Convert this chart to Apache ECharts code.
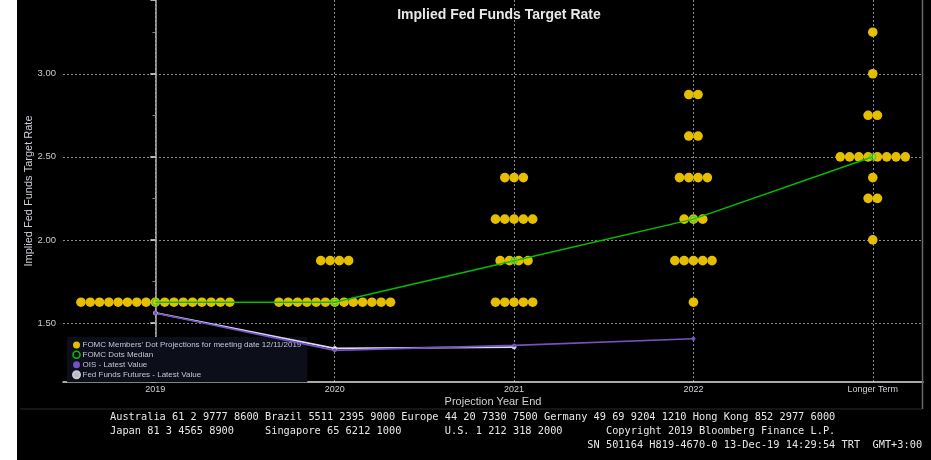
<!DOCTYPE html>
<html><head><meta charset="utf-8">
<script src="https://cdn.jsdelivr.net/npm/echarts@6/dist/echarts.min.js"></script>
<style>html,body{margin:0;padding:0;background:#000;}#c{width:931px;height:460px;}</style>
</head><body><div id="c"></div>
<script>
// ---- data ----
const categories = ['2019', '2020', '2021', '2022', 'Longer Term'];
const dotLevels  = [1.625, 1.875, 2.00, 2.125, 2.25, 2.375, 2.50, 2.625, 2.75, 2.875, 3.00, 3.25];
const dots2019   = [17, 0, 0, 0, 0, 0, 0, 0, 0, 0, 0, 0];
const dots2020   = [13, 4, 0, 0, 0, 0, 0, 0, 0, 0, 0, 0];
const dots2021   = [5, 4, 0, 5, 0, 3, 0, 0, 0, 0, 0, 0];
const dots2022   = [1, 5, 0, 3, 0, 4, 0, 2, 0, 2, 0, 0];
const dotsLonger = [0, 0, 1, 0, 2, 1, 8, 0, 2, 0, 1, 1];
const medianValues  = [1.625, 1.625, 1.875, 2.125, 2.50];
const oisValues     = [1.56, 1.335, 1.365, 1.405];
const futuresValues = [1.56, 1.347, 1.355];
const seriesNames = [
  "FOMC Members' Dot Projections for meeting date 12/11/2019",
  'FOMC Dots Median',
  'OIS - Latest Value',
  'Fed Funds Futures - Latest Value'
];
const footerLines = [
  'Australia 61 2 9777 8600 Brazil 5511 2395 9000 Europe 44 20 7330 7500 Germany 49 69 9204 1210 Hong Kong 852 2977 6000',
  'Japan 81 3 4565 8900     Singapore 65 6212 1000       U.S. 1 212 318 2000       Copyright 2019 Bloomberg Finance L.P.',
  '                                                                             SN 501164 H819-4670-0 13-Dec-19 14:29:54 TRT  GMT+3:00'
];

// ---- build ----
const DOT_STEP = 9.3;
const dotSets = [dots2019, dots2020, dots2021, dots2022, dotsLonger];
const dotData = [];
dotSets.forEach((counts, ci) => {
  counts.forEach((n, li) => {
    for (let k = 0; k < n; k++) {
      dotData.push({ value: [ci, dotLevels[li]], symbolOffset: [(k - (n - 1) / 2) * DOT_STEP, 0] });
    }
  });
});
const toXY = arr => arr.map((v, i) => [i, v]);

const DOT_COLOR = '#e6be00';
const GREEN = '#00c000';
const PURPLE = '#7452c4';
const WHITE_L = '#dcdcf0';

const chart = echarts.init(document.getElementById('c'), null, { renderer: 'canvas' });
const option = {
  backgroundColor: '#000',
  animation: false,
  title: {
    text: 'Implied Fed Funds Target Rate', left: 494, top: 3, textAlign: 'center',
    textStyle: { color: '#e8e8e8', fontSize: 14, fontWeight: 'bold', fontFamily: 'Liberation Sans' }
  },
  grid: { left: 63, right: 8, top: 0, bottom: 78 },
  legend: {
    orient: 'vertical', left: 67, top: 337, selectedMode: false, z: 1,
    padding: [4, 6, 3, 5], itemGap: 1.6, itemWidth: 8, itemHeight: 7,
    backgroundColor: '#0c0e1a',
    textStyle: { color: '#c4c6d4', fontSize: 8, fontFamily: 'Liberation Sans', padding: [0, 0, 0, -3] },
    data: [
      { name: seriesNames[0], icon: 'circle', itemStyle: { color: DOT_COLOR } },
      { name: seriesNames[1], icon: 'circle', itemStyle: { color: 'rgba(0,0,0,0)', borderColor: GREEN, borderWidth: 1.5 } },
      { name: seriesNames[2], icon: 'circle', itemStyle: { color: PURPLE } },
      { name: seriesNames[3], icon: 'circle', itemStyle: { color: '#bbbbbb' } }
    ]
  },
  xAxis: {
    type: 'value', min: -0.515, max: 4.28, splitNumber: 5,
    name: 'Projection Year End', nameLocation: 'middle', nameGap: 14, nameMoveOverlap: false,
    nameTextStyle: { color: '#d0d0d8', fontSize: 11, fontFamily: 'Liberation Sans' },
    axisLine: { show: true, lineStyle: { color: '#e0e0e0', width: 1.5 } },
    axisTick: { show: false },
    axisLabel: {
      color: '#d0d0d8', fontSize: 9, fontFamily: 'Liberation Sans', margin: 3,
      showMinLabel: false, showMaxLabel: false,
      formatter: v => (Number.isInteger(v) && categories[v]) ? categories[v] : ''
    },
    splitLine: { show: true, showMinLine: false, showMaxLine: false, lineStyle: { color: '#8a8a8a', type: [2, 2], width: 1 } }
  },
  yAxis: {
    type: 'value', min: 1.1446, max: 3.444, splitNumber: 5,
    name: 'Implied Fed Funds Target Rate', nameLocation: 'middle', nameGap: 29, nameRotate: 90, nameMoveOverlap: false,
    nameTextStyle: { color: '#d0d0d8', fontSize: 11, fontFamily: 'Liberation Sans' },
    axisLine: { show: true, lineStyle: { color: '#b0b0b0', width: 1.5 } },
    axisTick: { show: true, length: 5, lineStyle: { color: '#e8e8e8', width: 1.5 } },
    minorTick: { show: true, splitNumber: 2, length: 3, lineStyle: { color: '#808080', width: 1 } },
    axisLabel: {
      color: '#c8c8d0', fontSize: 9.5, fontFamily: 'Liberation Sans', margin: 7,
      showMinLabel: false, showMaxLabel: false,
      formatter: v => v.toFixed(2)
    },
    splitLine: { show: true, showMinLine: false, showMaxLine: false, lineStyle: { color: '#8a8a8a', type: [2, 2], width: 1 } }
  },
  series: [
    {
      name: seriesNames[0], type: 'scatter', data: dotData, z: 3,
      symbol: 'circle', symbolSize: 9.6, itemStyle: { color: DOT_COLOR, opacity: 1 }
    },
    {
      name: seriesNames[3], type: 'line', data: toXY(futuresValues), z: 2,
      symbol: 'circle', symbolSize: 4, showSymbol: true,
      lineStyle: { color: WHITE_L, width: 1.8 }, itemStyle: { color: '#ffffff', borderColor: '#c8c8d8', borderWidth: 1 }
    },
    {
      name: seriesNames[2], type: 'line', data: toXY(oisValues), z: 2,
      symbol: 'circle', symbolSize: 4, showSymbol: true,
      lineStyle: { color: PURPLE, width: 1.6 }, itemStyle: { color: PURPLE }
    },
    {
      name: seriesNames[1], type: 'line', data: toXY(medianValues), z: 4,
      symbol: 'circle', symbolSize: 6, showSymbol: true,
      lineStyle: { color: GREEN, width: 1.5 }, itemStyle: { color: 'rgba(0,0,0,0)', borderColor: '#3bd43b', borderWidth: 1.2 }
    }
  ],
  graphic: [
    { type: 'rect', left: 0, top: 0, shape: { width: 17, height: 460 }, style: { fill: '#ffffff' }, z: 100 },
    { type: 'line', shape: { x1: 922.5, y1: 0, x2: 922.5, y2: 409 }, style: { stroke: '#6a6a6a', lineWidth: 1.5 }, z: 100 },
    { type: 'line', shape: { x1: 20, y1: 409, x2: 922, y2: 409 }, style: { stroke: '#2a2a2a', lineWidth: 1 }, z: 100 },
    ...footerLines.map((t, i) => ({
      type: 'text', x: 110, y: 412 + i * 14, z: 100,
      style: { text: t, fill: '#e6e6e6', font: '10.3px "DejaVu Sans Mono", "Liberation Mono", monospace', textVerticalAlign: 'top' }
    }))
  ]
};
chart.setOption(option);
</script>
</body></html>
